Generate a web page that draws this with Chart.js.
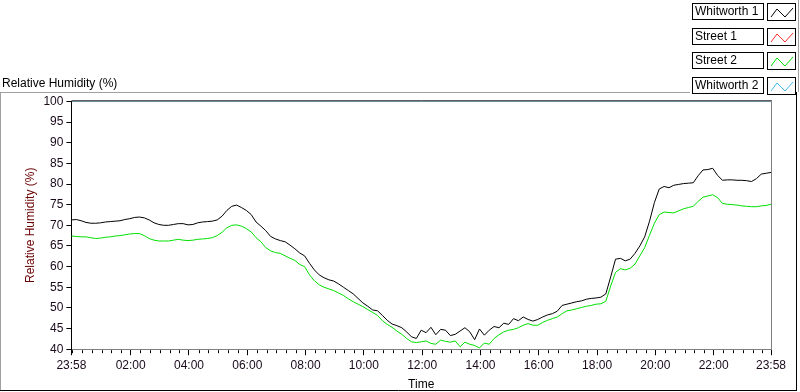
<!DOCTYPE html>
<html><head><meta charset="utf-8">
<script src="https://cdn.jsdelivr.net/npm/chart.js@4.4.1/dist/chart.umd.min.js"></script>
<style>html,body{margin:0;padding:0;background:#fff;overflow:hidden}#wrap{position:relative;width:800px;height:392px}</style>
</head><body><div id="wrap"><canvas id="c" width="800" height="392"></canvas></div>
<script>
// ---- data ----
const seriesNames = ['Whitworth 1', 'Street 1', 'Street 2', 'Whitworth 2'];
const xTickLabels = ['23:58','02:00','04:00','06:00','08:00','10:00','12:00','14:00','16:00','18:00','20:00','22:00','23:58'];
const yMin = 40, yMax = 100, yStep = 5;
const startClock = '23:58';
const sampleStepMin = 10; // samples every 10 minutes from 23:58
const whitworth1 = [
71.3,71.4,71.1,70.7,70.5,70.5,70.6,70.8,70.9,71.0,
71.1,71.4,71.6,71.9,72.0,71.8,71.3,70.6,70.2,70.0,
70.0,70.2,70.4,70.4,70.1,70.2,70.6,70.8,70.9,71.0,
71.3,72.2,73.6,74.6,74.9,74.3,73.6,72.6,70.8,69.8,
68.7,67.3,66.7,66.3,66.0,65.2,64.3,63.3,62.6,60.8,
59.2,58.0,57.3,56.8,56.5,55.8,55.0,54.2,53.4,52.3,
51.2,50.4,49.5,49.3,48.2,47.0,46.1,45.7,45.2,44.2,
43.0,42.6,44.6,44.0,45.3,43.5,44.8,44.6,43.3,43.6,
44.4,45.2,44.2,42.3,44.9,43.4,44.6,45.5,45.2,46.3,
46.0,47.4,46.9,47.8,47.2,46.8,47.2,47.8,48.3,48.6,
49.2,50.6,50.9,51.2,51.5,51.7,52.1,52.3,52.4,52.6,
53.4,57.5,61.8,62.0,61.4,61.8,63.2,65.0,67.2,71.0,
75.5,78.8,79.4,79.1,79.7,79.9,80.1,80.2,80.3,82.0,
83.4,83.5,83.8,82.1,80.9,81.0,81.0,80.9,80.9,80.8,
80.6,81.3,82.4,82.6,82.8];
const street1 = [];
const street2 = [
67.4,67.3,67.2,67.2,67.0,66.8,66.9,67.1,67.2,67.4,
67.5,67.7,67.9,68.0,68.0,67.5,66.8,66.4,66.2,66.2,
66.2,66.4,66.6,66.4,66.3,66.4,66.6,66.7,66.8,67.0,
67.5,68.3,69.4,70.0,70.1,69.8,69.2,68.4,67.0,66.0,
64.6,63.8,63.4,63.2,62.6,62.0,61.5,60.5,60.0,58.0,
56.6,55.6,55.0,54.6,54.2,53.6,53.0,52.2,51.5,50.9,
50.3,49.6,48.9,48.2,46.9,46.0,45.3,44.4,43.6,42.6,
41.8,41.6,41.8,42.0,41.4,41.2,42.2,41.9,41.7,42.0,
40.6,41.7,41.2,40.9,40.3,41.5,41.2,42.6,43.5,44.2,
44.6,44.8,45.2,45.8,46.2,45.8,45.8,46.5,47.0,47.4,
47.8,48.6,49.3,49.5,49.8,50.1,50.4,50.6,50.9,51.0,
51.6,55.3,58.6,59.5,59.2,59.6,60.6,62.6,64.6,67.6,
70.5,72.6,73.2,73.1,73.0,73.5,74.0,74.3,74.6,75.8,
76.8,77.1,77.4,76.7,75.3,75.1,75.0,74.9,74.7,74.6,
74.5,74.5,74.7,74.8,75.1];
const whitworth2Clock = ['23:58','23:58'];
const whitworth2 = [100, 100];

// ---- helpers ----
function clockToMin(s){const p=s.split(':');return (+p[0])*60+(+p[1]);}
const startMin = clockToMin(startClock);
function sinceStart(s, isEnd){let d=(clockToMin(s)-startMin+1440)%1440; if(isEnd && d===0) d=1440; return d;}
const xTickPos = xTickLabels.map((l,i)=>sinceStart(l, i===xTickLabels.length-1));
function pts(vals){return vals.map((v,i)=>({x:i*sampleStepMin, y:v}));}

Chart.defaults.font.family = "'Liberation Sans', Arial, sans-serif";
Chart.defaults.font.size = 12;
Chart.defaults.color = '#000';

const decor = {
  id:'decor',
  afterDraw(chart){
    const ctx = chart.ctx, a = chart.chartArea, xs = chart.scales.x;
    ctx.save();
    ctx.lineWidth = 1;
    // plot frame top/right
    ctx.strokeStyle = '#000';
    ctx.beginPath(); ctx.moveTo(a.left, a.top-0.5); ctx.lineTo(a.right+1, a.top-0.5); ctx.stroke();
    ctx.strokeStyle = '#808080';
    ctx.beginPath(); ctx.moveTo(Math.round(a.right)+0.5, a.top); ctx.lineTo(Math.round(a.right)+0.5, a.bottom); ctx.stroke();
    // minor ticks every 20 clock-minutes
    ctx.strokeStyle = '#000';
    ctx.beginPath();
    for(let m=(1440-startMin)%20; m<=1440; m+=20){
      if(xTickPos.includes(m)) continue;
      const px = Math.round(xs.getPixelForValue(m))+0.5;
      ctx.moveTo(px, a.bottom+1); ctx.lineTo(px, a.bottom+4);
    }
    ctx.stroke();
    // outer panel frame
    ctx.strokeStyle = '#a0a0a0';
    ctx.beginPath(); ctx.moveTo(0, 92.5); ctx.lineTo(690, 92.5); ctx.stroke();
    ctx.beginPath(); ctx.moveTo(0.5, 92); ctx.lineTo(0.5, 391); ctx.stroke();
    ctx.beginPath(); ctx.moveTo(798.5, 0); ctx.lineTo(798.5, 92); ctx.stroke();
    ctx.strokeStyle = '#000';
    ctx.beginPath(); ctx.moveTo(0, 390.5); ctx.lineTo(797, 390.5); ctx.stroke();
    ctx.beginPath(); ctx.moveTo(796.5, 92); ctx.lineTo(796.5, 391); ctx.stroke();
    // legend
    chart.data.datasets.forEach((ds,i)=>{
      const top = Math.round(3 + i*24.7);
      ctx.strokeStyle = '#000';
      ctx.strokeRect(692.5, top+0.5, 71, 16);
      ctx.strokeRect(767.5, top+0.5, 28, 17);
      ctx.fillStyle = '#000';
      ctx.font = "12px 'Liberation Sans', Arial, sans-serif";
      ctx.textBaseline = 'middle'; ctx.textAlign = 'left';
      ctx.fillText(ds.label, 695, top+9);
      ctx.strokeStyle = ds.borderColor;
      ctx.beginPath();
      ctx.moveTo(771, top+14); ctx.lineTo(777, top+6); ctx.lineTo(785, top+14); ctx.lineTo(793, top+5);
      ctx.stroke();
    });
    ctx.restore();
  }
};

new Chart(document.getElementById('c'), {
  type:'line',
  data:{datasets:[
    {label:seriesNames[0], data:pts(whitworth1), borderColor:'#000000'},
    {label:seriesNames[1], data:pts(street1), borderColor:'#ff3030'},
    {label:seriesNames[2], data:pts(street2), borderColor:'#00e000'},
    {label:seriesNames[3], data:whitworth2Clock.map((c,i)=>({x:sinceStart(c,i===whitworth2Clock.length-1), y:whitworth2[i]})), borderColor:'#40b8f0'}
  ].map(d=>Object.assign(d,{borderWidth:1, pointRadius:0, tension:0, fill:false}))},
  options:{
    responsive:false, animation:false, events:[],
    layout:{padding:{left:2, right:29, top:0, bottom:0}},
    plugins:{
      legend:{display:false}, tooltip:{enabled:false},
      title:{display:true, text:'Relative Humidity (%)', align:'start', color:'#000', font:{size:12, weight:'normal'}, padding:{top:76, bottom:11}}
    },
    scales:{
      x:{type:'linear', min:0, max:1440,
        afterBuildTicks(s){ s.ticks = xTickPos.map(v=>({value:v})); },
        ticks:{autoSkip:false, maxRotation:0, padding:3, color:'#1a0a1a', callback:(v,i)=>xTickLabels[i]},
        grid:{drawOnChartArea:false, tickLength:6, color:'#000', tickWidth:1},
        border:{display:true, color:'#808080', width:1},
        title:{display:true, text:'Time', color:'#000', font:{size:12}, padding:{top:2, bottom:0}}
      },
      y:{min:yMin, max:yMax,
        ticks:{stepSize:yStep, padding:3, color:'#1a0a1a'},
        grid:{drawOnChartArea:false, tickLength:5, color:'#000'},
        border:{display:true, color:'#000', width:1},
        title:{display:true, text:'Relative Humidity (%)', color:'#6a0000', font:{size:12}, padding:{top:21, bottom:3}}
      }
    }
  },
  plugins:[decor]
});
</script></body></html>
